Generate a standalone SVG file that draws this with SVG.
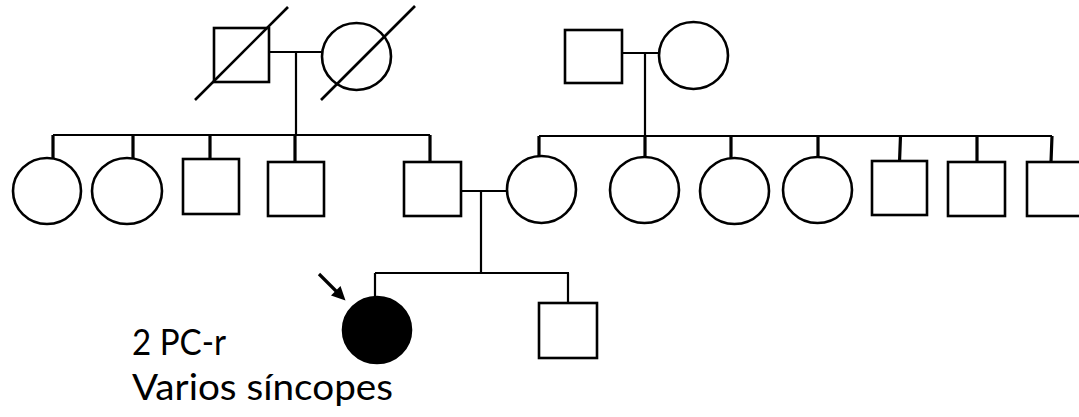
<svg xmlns="http://www.w3.org/2000/svg" width="1079" height="417" viewBox="0 0 1079 417">
<style>
.sh{fill:#fff;stroke:#000;stroke-width:2.6}
.aff{fill:#000;stroke:#000;stroke-width:2.6}
.ln{fill:none;stroke:#000;stroke-width:2.2;stroke-linecap:butt}
.dr{fill:none;stroke:#000;stroke-width:3.2;stroke-linecap:butt}
.sl{fill:none;stroke:#000;stroke-width:2.6}
.tx{font-family:Lato,"Open Sans",sans-serif;font-size:37px;fill:#000}
</style>
<rect width="1079" height="417" fill="#fff"/>
<g id="connectors">
<path class="ln" d="M269,52H322M296,52V135"/>
<path class="ln" d="M622,53H659M645,53V136"/>
<path class="ln" d="M53,135H430"/>
<path class="dr" d="M53,135V158M133,135V158M210,135V162M295,135V162M430,135V162"/>
<path class="ln" d="M539,136H1052"/>
<path class="dr" d="M539,136V157M645,136V157M731,136V158M818,136V157M900.5,136L899.5,162M977,136V162M1052,136L1051,162"/>
<path class="ln" d="M461,191H507M481,191V273"/>
<path class="ln" d="M375,273H569M375,273V298M568,273V303"/>
<path fill="none" stroke="#000" stroke-width="3.2" d="M319,274L338,293"/>
<path d="M345.5,300.5L340.5,286L331,295.5Z" fill="#000"/>
</g>
<g id="grandfather-paternal"><rect class="sh" x="214" y="28" width="55" height="54"/><line class="sl" x1="195" y1="100" x2="288" y2="7"/></g>
<g id="grandmother-paternal"><ellipse class="sh" cx="356.5" cy="56.5" rx="34.5" ry="33.5"/><line class="sl" x1="321" y1="100" x2="415" y2="6"/></g>
<g id="grandfather-maternal"><rect class="sh" x="565" y="30" width="57" height="53"/></g>
<g id="grandmother-maternal"><ellipse class="sh" cx="693.5" cy="55.5" rx="34.5" ry="33.5"/></g>
<g id="aunt-p1"><ellipse class="sh" cx="47" cy="191" rx="34" ry="33"/></g>
<g id="aunt-p2"><ellipse class="sh" cx="127" cy="191" rx="35" ry="33"/></g>
<g id="uncle-p1"><rect class="sh" x="183" y="159" width="56" height="55"/></g>
<g id="uncle-p2"><rect class="sh" x="268" y="162" width="56" height="54"/></g>
<g id="father"><rect class="sh" x="404" y="162" width="57" height="54"/></g>
<g id="mother"><ellipse class="sh" cx="541.5" cy="189.5" rx="34.5" ry="33.5"/></g>
<g id="aunt-m1"><ellipse class="sh" cx="644.5" cy="190" rx="34.5" ry="33"/></g>
<g id="aunt-m2"><ellipse class="sh" cx="734.5" cy="191" rx="34.5" ry="33"/></g>
<g id="aunt-m3"><ellipse class="sh" cx="817.5" cy="190" rx="34.5" ry="33"/></g>
<g id="uncle-m1"><rect class="sh" x="872" y="161" width="55" height="54"/></g>
<g id="uncle-m2"><rect class="sh" x="948" y="162" width="57" height="54"/></g>
<g id="uncle-m3"><rect class="sh" x="1027" y="162" width="57" height="54"/></g>
<g id="proband"><ellipse class="aff" cx="377" cy="330" rx="34" ry="33"/></g>
<g id="brother"><rect class="sh" x="539" y="303" width="58" height="55"/></g>
<g id="label">
<text class="tx" x="132" y="355" textLength="94" lengthAdjust="spacingAndGlyphs">2 PC-r</text>
<text class="tx" x="132" y="400" textLength="261" lengthAdjust="spacingAndGlyphs">Varios síncopes</text>
</g>
</svg>
